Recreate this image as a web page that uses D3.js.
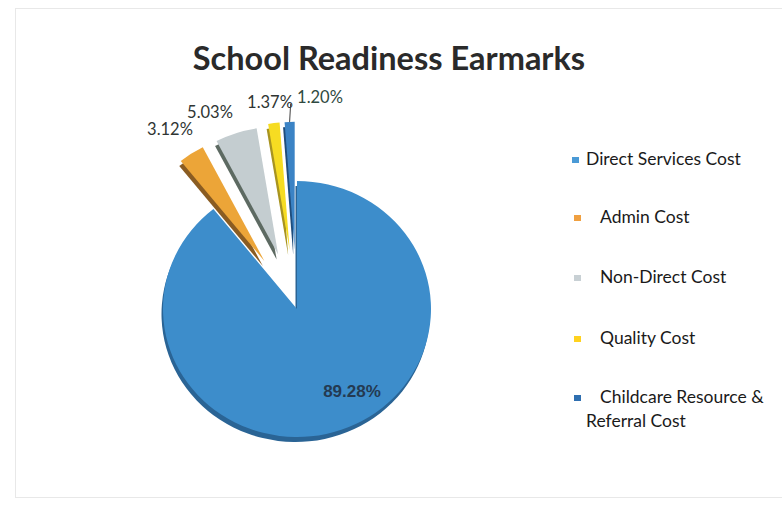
<!DOCTYPE html>
<html>
<head>
<meta charset="utf-8">
<script src="https://cdn.jsdelivr.net/npm/d3@7"></script>
<style>
  html, body { margin: 0; padding: 0; background: #fff; }
  svg { display: block; }
</style>
</head>
<body>
<svg id="chart" width="782" height="506"></svg>
<script>
// ---- data ----
const categories = ["Direct Services Cost", "Admin Cost", "Non-Direct Cost", "Quality Cost", "Childcare Resource & Referral Cost"];
const values = [89.28, 3.12, 5.03, 1.37, 1.20];
const valueLabels = ["89.28%", "3.12%", "5.03%", "1.37%", "1.20%"];
const legendLines = [["Direct Services Cost"], ["Admin Cost"], ["Non-Direct Cost"], ["Quality Cost"], ["Childcare Resource &", "Referral Cost"]];
const title = "School Readiness Earmarks";

// ---- styles / layout ----
const topColors  = ["#3d8dcb", "#eca538", "#c4cdd0", "#f6dc22", "#3b83c5"];
const sideColors = ["#2a6495", "#8a5c22", "#5d6a62", "#a89420", "#1f4d7c"];
const legendColors = ["#4a9ad6", "#f0a040", "#c8d0d4", "#ffd21f", "#2f6fb0"];

const svg = d3.select("#chart");

// faint frame
svg.append("rect").attr("x", 15.5).attr("y", 8.5).attr("width", 790).attr("height", 489)
  .attr("fill", "none").attr("stroke", "#e8e8e8").attr("stroke-width", 1);

// title
svg.append("text").attr("x", 389).attr("y", 70).attr("text-anchor", "middle")
  .attr("font-family", "Lato, 'Open Sans', sans-serif").attr("font-weight", 700)
  .attr("font-size", 32.5).attr("fill", "#2a2a2a").text(title);

// pie
const cx = 297, cy = 309, R = 134, flat = 0.955, depth = 5;
const explode = [0, 60, 60, 62, 62];

const pie = d3.pie().sort(null).startAngle(0).endAngle(2 * Math.PI);
const arcs = pie(values);
const arc = d3.arc().innerRadius(0).outerRadius(R);

const g = svg.append("g").attr("transform", `translate(${cx},${cy}) scale(1,${flat})`);

function offset(d, i) {
  const m = (d.startAngle + d.endAngle) / 2;
  return [explode[i] * Math.sin(m), -explode[i] * Math.cos(m)];
}

// side faces (depth)
g.selectAll("path.side").data(arcs).join("path")
  .attr("class", "side")
  .attr("d", arc)
  .attr("fill", (d, i) => sideColors[i])
  .attr("transform", (d, i) => {
    const [ox, oy] = offset(d, i);
    return `translate(${ox - 1.5},${oy + depth / flat})`;
  });

// top faces
g.selectAll("path.top").data(arcs).join("path")
  .attr("class", "top")
  .attr("d", arc)
  .attr("fill", (d, i) => topColors[i])
  .attr("transform", (d, i) => {
    const [ox, oy] = offset(d, i);
    return `translate(${ox},${oy})`;
  });

// data labels (placed around the exploded slices)
const labelPos = [[352, 397], [170, 135], [210, 118], [270, 108], [320, 103]];
svg.selectAll("text.lbl").data(arcs).join("text")
  .attr("class", "lbl")
  .attr("x", (d, i) => labelPos[i][0])
  .attr("y", (d, i) => labelPos[i][1])
  .attr("text-anchor", "middle")
  .attr("font-family", (d, i) => i === 0 ? "'Liberation Sans', Arial, sans-serif" : "Lato, 'Open Sans', sans-serif")
  .attr("font-weight", (d, i) => i === 0 ? 700 : 400)
  .attr("font-size", (d, i) => i === 0 ? 17 : 16.5)
  .attr("fill", (d, i) => i === 0 ? "#243a52" : (i === 4 ? "#2f4a40" : "#2f3533"))
  .text((d, i) => valueLabels[i]);

// leader line for the smallest slice label
{
  const d = arcs[4];
  const m = (d.startAngle + d.endAngle) / 2;
  const [ox, oy] = offset(d, 4);
  const px = cx + ox + R * Math.sin(m);
  const py = cy + (oy - R * Math.cos(m)) * flat;
  svg.append("line").attr("x1", px).attr("y1", py).attr("x2", px + 1).attr("y2", py - 18)
    .attr("stroke", "#404040").attr("stroke-width", 1);
}

// legend
const legendY = [160, 218, 278, 339, 398];
const markerX = [572, 574, 574, 574, 574];
const textX = [586, 600, 600, 600, 600];
const lg = svg.append("g");
categories.forEach((c, i) => {
  lg.append("rect").attr("x", markerX[i]).attr("y", legendY[i] - 3).attr("width", 7).attr("height", 6)
    .attr("fill", legendColors[i]);
  legendLines[i].forEach((line, j) => {
    lg.append("text")
      .attr("x", j === 0 ? textX[i] : 586)
      .attr("y", legendY[i] + 5 + j * 24)
      .attr("font-family", "Lato, 'Open Sans', sans-serif")
      .attr("font-size", 17.5).attr("fill", "#1a1a1a")
      .text(line);
  });
});
</script>
</body>
</html>
